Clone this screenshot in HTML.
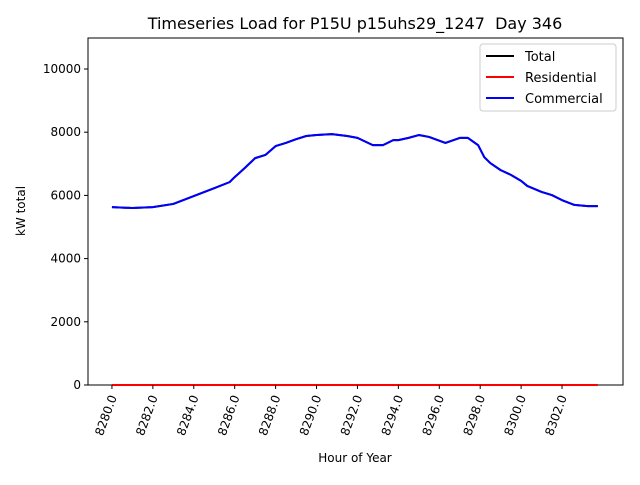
<!DOCTYPE html>
<html><head><meta charset="utf-8"><style>
body{margin:0;background:#fff;font-family:"Liberation Sans","DejaVu Sans",sans-serif}
svg text{font-family:"DejaVu Sans","Liberation Sans",sans-serif;white-space:pre}
</style></head><body>
<svg id="c" width="640" height="480" xmlns="http://www.w3.org/2000/svg"></svg>
<script>
const hours=[8280,8281,8282,8283,8284,8285,8285.75,8286,8286.5,8287,8287.5,8288,8288.5,8289,8289.5,8290,8290.75,8291.5,8292,8292.75,8293.25,8293.75,8294,8294.5,8295,8295.5,8296.3,8297,8297.4,8297.9,8298.2,8298.5,8299,8299.5,8300,8300.3,8301,8301.5,8302,8302.6,8303.25,8303.75];
const commercial=[5630,5600,5630,5730,5980,6230,6420,6580,6870,7180,7280,7560,7660,7780,7880,7910,7940,7880,7820,7590,7590,7750,7750,7820,7910,7850,7660,7820,7820,7590,7210,7020,6800,6650,6460,6300,6110,6010,5850,5700,5660,5660];
const residential=hours.map(()=>0);
const total=commercial.slice();
const xTicks=[8280,8282,8284,8286,8288,8290,8292,8294,8296,8298,8300,8302];
const yTicks=[0,2000,4000,6000,8000,10000];
const L=88,R=623,T=38,B=385,X0=8278.83,X1=8304.98,Y0=0,Y1=10981;
const sx=v=>L+(v-X0)/(X1-X0)*(R-L), sy=v=>B-(v-Y0)/(Y1-Y0)*(B-T);
const svg=document.getElementById('c');const NS='http://www.w3.org/2000/svg';
function mk(t,a,p){const e=document.createElementNS(NS,t);for(const k in a)e.setAttribute(k,a[k]);(p||svg).appendChild(e);return e;}
let e;
e=mk('text',{x:355,y:29,'text-anchor':'middle','font-size':16,'xml:space':'preserve'});e.textContent='Timeseries Load for P15U p15uhs29_1247  Day 346';


e=mk('rect',{x:L,y:T,width:R-L,height:B-T,fill:'none',stroke:'#000','stroke-width':1});


function line(vals,color,name){e=mk('polyline',{points:hours.map((h,i)=>sx(h)+','+sy(vals[i])).join(' '),fill:'none',stroke:color,'stroke-width':2,'stroke-linejoin':'round'});

}
line(total,'#000','total-line');line(residential,'#f00','residential-line');line(commercial,'#00f','commercial-line');
xTicks.forEach(t=>{const x=sx(t);mk('line',{x1:x,x2:x,y1:B,y2:B+4,stroke:'#000'});
e=mk('text',{transform:`translate(${x+5},${B+12}) rotate(-70)`,'text-anchor':'end','font-size':12});e.textContent=t.toFixed(1);

});
yTicks.forEach(t=>{const y=sy(t);mk('line',{x1:L-4,x2:L,y1:y,y2:y,stroke:'#000'});
e=mk('text',{x:L-7,y:y+4,'text-anchor':'end','font-size':12});e.textContent=t;

});
e=mk('text',{x:355,y:462,'text-anchor':'middle','font-size':12});e.textContent='Hour of Year';


e=mk('text',{transform:'translate(25,211) rotate(-90)','text-anchor':'middle','font-size':12});e.textContent='kW total';


const g=mk('g',{});


mk('rect',{x:480,y:44,width:136,height:67,rx:3,fill:'#fff',stroke:'#ccc'},g);
[['Total','#000'],['Residential','#f00'],['Commercial','#00f']].forEach((d,i)=>{const y=56+i*21;
mk('line',{x1:486,x2:514,y1:y,y2:y,stroke:d[1],'stroke-width':2},g);
const t=mk('text',{x:525,y:y+5,'font-size':13},g);t.textContent=d[0];

});
</script>
</body></html>
